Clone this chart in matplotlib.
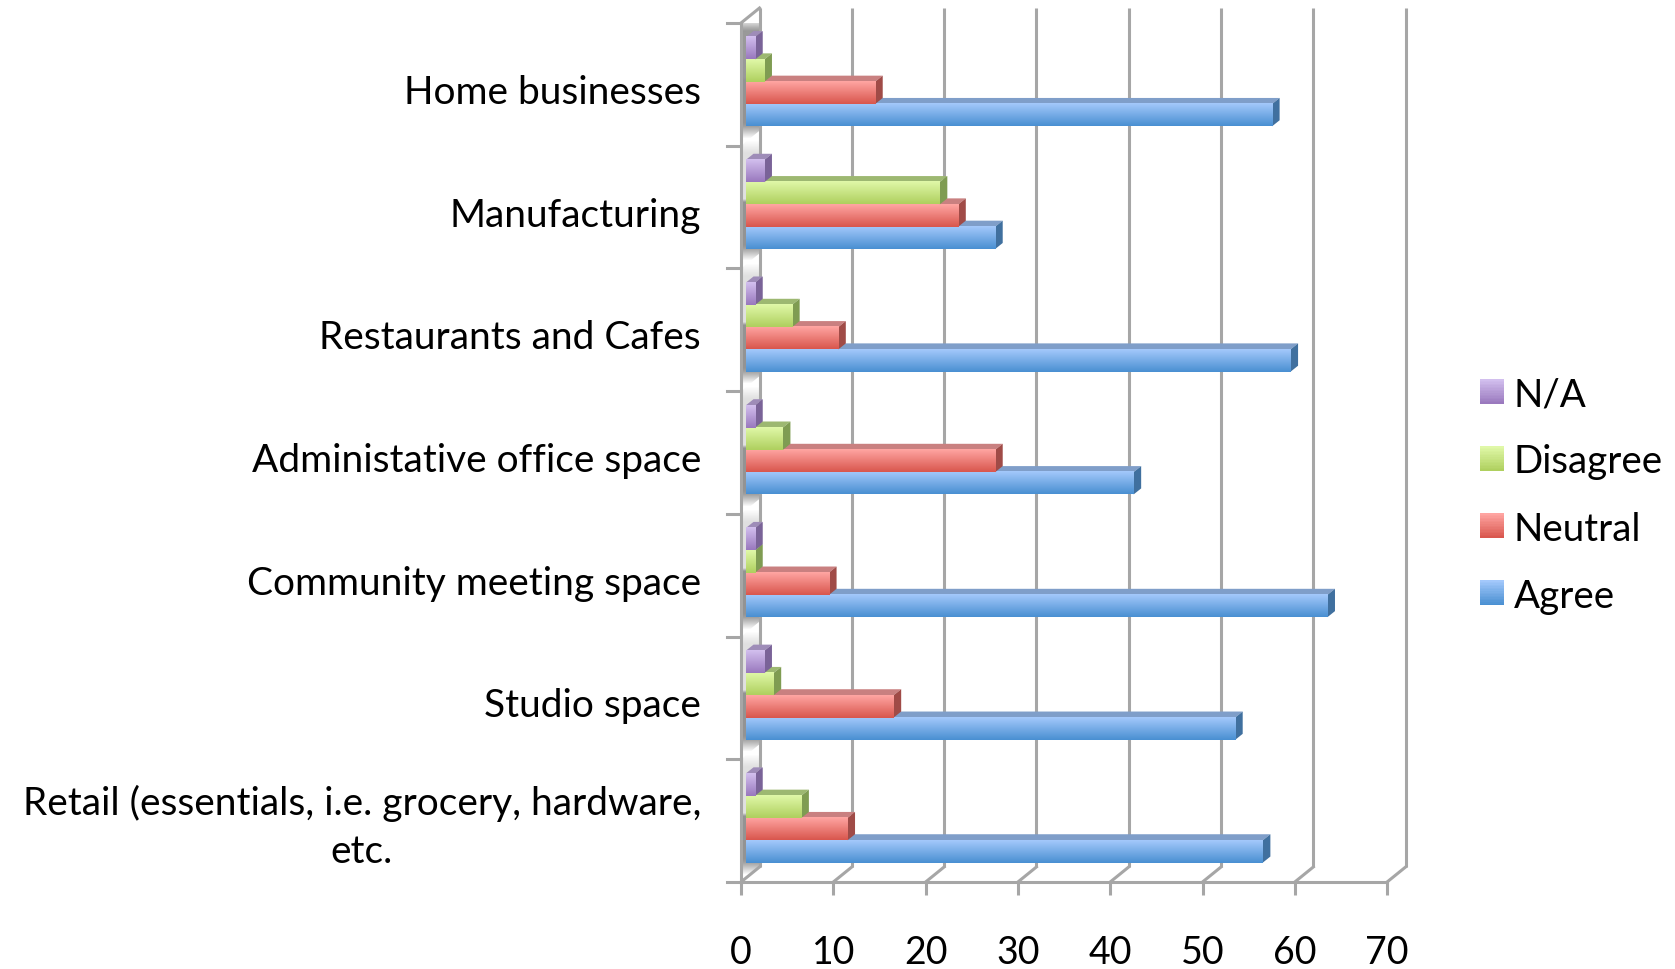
import numpy as np
import matplotlib
matplotlib.use("Agg")
import matplotlib.pyplot as plt
from matplotlib.patches import Polygon, Rectangle, Patch
from matplotlib.transforms import Affine2D
from matplotlib.legend_handler import HandlerBase
from matplotlib.colors import to_rgb

categories = ["Retail (essentials, i.e. grocery, hardware,\netc.", "Studio space",
              "Community meeting space", "Administative office space",
              "Restaurants and Cafes", "Manufacturing", "Home businesses"]
agree = [56, 53, 63, 42, 59, 27, 57]
neutral = [11, 16, 9, 27, 10, 23, 14]
disagree = [6, 3, 1, 4, 5, 21, 2]
na = [1, 2, 1, 1, 1, 2, 1]
xticks = list(range(0, 80, 10))

series = [
    ("Agree", agree, "#a3c8fb", "#4a90d2", "#7f9ec9", "#40709f"),
    ("Neutral", neutral, "#ffa5a2", "#d9574e", "#c98080", "#a04b47"),
    ("Disagree", disagree, "#e0f8a8", "#afd05f", "#9db871", "#7f9c52"),
    ("N/A", na, "#d2bfee", "#9a79be", "#9e8cb8", "#7a6398"),
]

plt.rcParams["font.family"] = ["Lato", "DejaVu Sans"]
W, H = 1675, 970
fig = plt.figure(figsize=(W / 100, H / 100), dpi=100)
X0, XPX = 741, 9.23
Y0, YTOP = 883, 24
YPX = (Y0 - YTOP) / 7
ax = fig.add_axes([X0 / W, (H - Y0) / H, 70 * XPX / W, (Y0 - YTOP) / H])
ax.axis("off")

GRID = "#a6a6a6"
DX, DY = 18.5, 15
back_data = ax.transData + Affine2D().translate(DX, DY)
bar_tf = ax.transData + Affine2D().translate(5, 2.7)
lw = 2.2
FS = 28

# shaded left wall: grey under each blue bar, fading to white near the category boundary
px_w = DX / XPX
for i in range(7):
    t = np.linspace(0, 1, 40)
    top_s = 0.4 if i == 6 else 0.12
    shade = 1 - top_s * np.clip(t * YPX / 12, 0, 1)
    shade = np.where(t > 0.5, 1 - 0.42 * np.clip((1 - t) * YPX / 14, 0, 1), shade)
    g = np.repeat(shade[:, None], 3, axis=1)[:, None, :]
    im = ax.imshow(g, extent=(0, px_w, i + 6 / YPX, i + 1 + 6 / YPX), origin="upper", aspect="auto",
                   zorder=1, interpolation="bilinear")
    clip = Polygon([(0, i), (0, i + 1), (px_w, i + 1 + DY / YPX), (px_w, i + DY / YPX)],
                   closed=True, transform=ax.transData, fill=False, lw=0)
    ax.add_patch(clip)
    im.set_clip_path(clip)

# walls and gridlines
for v in xticks:
    ax.plot([v, v], [0, 7], color=GRID, lw=lw, zorder=2, transform=back_data, clip_on=False,
            solid_capstyle="butt")
    ax.plot([v, v + DX / XPX], [0, DY / YPX], color=GRID, lw=lw, zorder=2, clip_on=False)
    ax.plot([v, v], [0, -13 / YPX], color=GRID, lw=lw, zorder=2, clip_on=False, solid_capstyle="butt")
    ax.text(v, -70 / YPX, str(v), ha="center", va="center", fontsize=27, color="black")
ax.plot([0, 70], [0, 0], color=GRID, lw=lw, zorder=2, clip_on=False)
ax.plot([0, 0], [0, 7], color=GRID, lw=lw, zorder=2, clip_on=False)
ax.plot([0, px_w], [7, 7 + DY / YPX], color=GRID, lw=lw, zorder=2, clip_on=False)
for i in range(8):
    ax.plot([-14 / XPX, 0], [i, i], color=GRID, lw=lw, zorder=2, clip_on=False)

# bars
BAR = 22.3 / YPX
D_X, D_Y = 7.5 / XPX, 6 / YPX
z = 3
for i, cat in enumerate(categories):
    for k, (name, vals, c1, c2, ctop, cside) in enumerate(series):
        v = vals[i]
        yc = i + 0.5 + (k - 1.5) * BAR
        y1, y2 = yc - BAR / 2, yc + BAR / 2
        ax.add_patch(Polygon([(0, y2), (v, y2), (v + D_X, y2 + D_Y), (D_X, y2 + D_Y)], closed=True,
                             fc=ctop, ec="none", transform=bar_tf, zorder=z, clip_on=False))
        ax.add_patch(Polygon([(v, y1), (v, y2), (v + D_X, y2 + D_Y), (v + D_X, y1 + D_Y)], closed=True,
                             fc=cside, ec="none", transform=bar_tf, zorder=z, clip_on=False))
        ax.barh(yc, v, height=BAR, color=c2, transform=bar_tf, zorder=z, clip_on=False)
        g = np.linspace(to_rgb(c1), to_rgb(c2), 32)[:, None, :]
        ax.imshow(g, extent=(0, v, y1, y2), origin="upper", aspect="auto", transform=bar_tf,
                  interpolation="bilinear", zorder=z + 0.5, clip_on=False)
        z += 1
    offs = 6 if "\n" in cat else 7.5
    ax.text(-40 / XPX, i + 0.5 - offs / YPX, cat, ha="right", va="center",
            multialignment="center", fontsize=FS, color="black", linespacing=1.42)

ax.set_xlim(0, 70)
ax.set_ylim(0, 7)


class GradHandler(HandlerBase):
    def __init__(self, c1, c2):
        super().__init__()
        self.c1, self.c2 = np.array(to_rgb(c1)), np.array(to_rgb(c2))

    def create_artists(self, legend, orig, xd, yd, width, height, fontsize, trans):
        n = 16
        out = []
        for j in range(n):
            c = self.c1 + (self.c2 - self.c1) * j / (n - 1)
            out.append(Rectangle((-xd, -yd + height * (n - 1 - j) / n), width, height / n + 0.3,
                                 fc=c, ec="none", transform=trans))
        return out


handles = [Patch(label=s[0]) for s in series[::-1]]
hmap = {h: GradHandler(s[2], s[3]) for h, s in zip(handles, series[::-1])}
fig.legend(handles=handles, handler_map=hmap, loc="center left",
           bbox_to_anchor=(1480 / W, 1 - 496 / H), frameon=False, fontsize=27.7,
           handlelength=0.62, handleheight=0.62, handletextpad=0.26, labelspacing=0.807,
           borderpad=0, borderaxespad=0)

fig.savefig("out.png", dpi=100, facecolor="white")
